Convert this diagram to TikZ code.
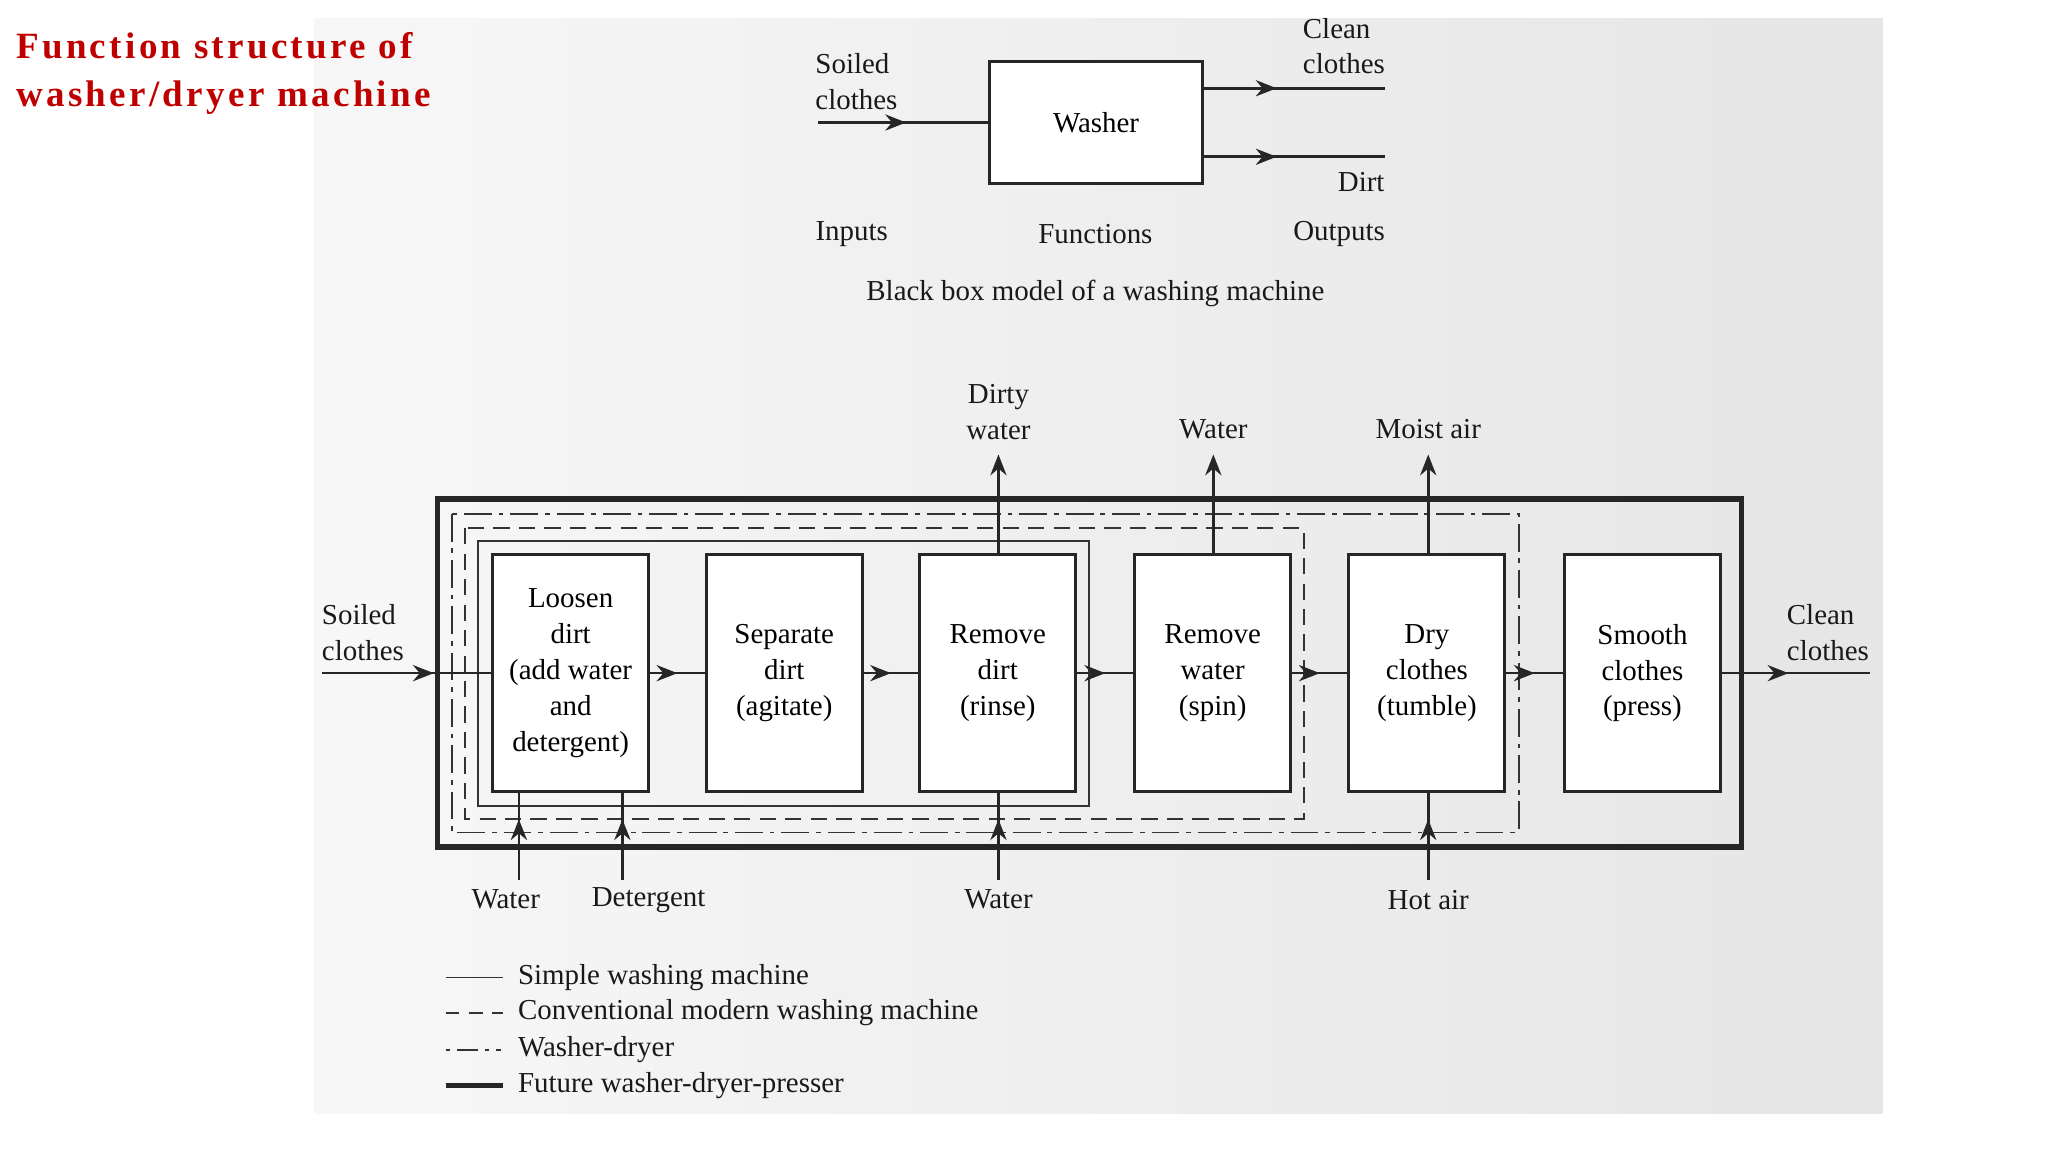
\documentclass[tikz,border=0pt]{standalone}
\usepackage{fontspec}
\setmainfont{Liberation Serif}
\newfontfamily\titlefont[LetterSpace=9]{Liberation Serif}
\usetikzlibrary{arrows.meta,decorations.markings}
\tikzset{
 fb/.style={draw=black!85,line width=1.3pt,fill=white,minimum width=119*0.0199cm,minimum height=180*0.02cm,align=center,inner sep=0pt,font=\fontsize{12.5}{15.5}\selectfont},
 lbl/.style={font=\fontsize{12.5}{15.5}\selectfont,inner sep=0pt,text=black!90},
 flow/.style={line width=1.1pt,draw=black!85,postaction={decorate},decoration={markings,mark=at position #1 with {\arrow{Stealth[length=9pt,width=7pt]}}}},
 flow/.default=0.5,
 up/.style={line width=1.1pt,draw=black!85,-{Stealth[length=9pt,width=7pt]}},
}
\begin{document}
\begin{tikzpicture}[x=0.0199cm,y=-0.02cm]
\useasboundingbox (0,0) rectangle (1563,875);
\shade[left color=white!97!black,right color=black!10] (240,14) rectangle (1437,845);
\node[anchor=north west,inner sep=0pt,align=left,text=red!75!black,font=\fontsize{16}{21}\titlefont\bfseries] (title) at (12,24) {Function structure of\\washer/dryer machine};
% black box
\node[draw=black!85,line width=1.3pt,fill=white,minimum width=163*0.0199cm,minimum height=92*0.02cm,font=\fontsize{12.5}{15}\selectfont] (washer) at (836.5,93) {Washer};
\coordinate (in0) at (624,93);
\coordinate (o1) at (1057,67);
\coordinate (o2) at (1057,119);
\draw[flow=0.52] (in0) -- (washer.west);
\draw[flow=0.4] (washer.east|-o1) -- (o1);
\draw[flow=0.4] (washer.east|-o2) -- (o2);
\node[lbl,anchor=west,align=left] (sc) at (622,62) {Soiled\\clothes};
\node[lbl,anchor=west,align=left] (cc) at (994,35) {Clean\\clothes};
\node[lbl,anchor=east] (dirt) at (1057,138) {Dirt};
\node[lbl] (inp) at (650,178) {Inputs};
\node[lbl] (fun) at (836,178) {Functions};
\node[lbl] (outp) at (1022,178) {Outputs};
\node[lbl] (cap) at (836,223) {Black box model of a washing machine};
% nested boundaries
\draw[line width=2.4pt,draw=black!85] (334,379) rectangle (1329,643);
\draw[line width=0.8pt,draw=black!80,dash pattern=on 12pt off 3pt on 2pt off 3pt] (345,390) rectangle (1159,632);
\draw[line width=0.8pt,draw=black!80,dash pattern=on 7pt off 4pt] (355,401) rectangle (995,622);
\draw[line width=0.8pt,draw=black!80] (365,411) rectangle (831,612);
% function boxes
\node[fb] (b1) at (435.5,511) {Loosen\\dirt\\(add water\\and\\detergent)};
\node[fb] (b2) at (598.5,511) {Separate\\dirt\\(agitate)};
\node[fb] (b3) at (761.5,511) {Remove\\dirt\\(rinse)};
\node[fb] (b4) at (925.5,511) {Remove\\water\\(spin)};
\node[fb] (b5) at (1089,511) {Dry\\clothes\\(tumble)};
\node[fb] (b6) at (1253.5,511) {Smooth\\clothes\\(press)};
\coordinate (sin) at (246,511);
\coordinate (cout) at (1427,511);
\draw[flow=0.66] (sin) -- (b1.west);
\draw[flow=0.45] (b6.east) -- (cout);
\draw[flow] (b1) -- (b2);
\draw[flow] (b2) -- (b3);
\draw[flow] (b3) -- (b4);
\draw[flow] (b4) -- (b5);
\draw[flow] (b5) -- (b6);
% outputs upward
\coordinate (u3) at (762,345);
\coordinate (u4) at (926,345);
\coordinate (u5) at (1090,345);
\draw[up] (b3.north-|u3) -- (u3);
\draw[up] (b4.north-|u4) -- (u4);
\draw[up] (b5.north-|u5) -- (u5);
\node[lbl,align=center] (dw) at (762,313) {Dirty\\water};
\node[lbl] (wt) at (926,326) {Water};
\node[lbl] (ma) at (1090,326) {Moist air};
% inputs from below
\coordinate (d1) at (396,668);
\coordinate (d2) at (475,668);
\coordinate (d3) at (762,668);
\coordinate (d5) at (1090,668);
\draw[flow=0.7] (d1) -- (b1.south-|d1);
\draw[flow=0.7] (d2) -- (b1.south-|d2);
\draw[flow=0.7] (d3) -- (b3.south-|d3);
\draw[flow=0.7] (d5) -- (b5.south-|d5);
\node[lbl] (lw) at (386,683) {Water};
\node[lbl] (ld) at (495,683) {Detergent};
\node[lbl] (lw2) at (762,683) {Water};
\node[lbl] (lh) at (1090,683) {Hot air};
\node[lbl,align=left] (lsc) at (277,480) {Soiled\\clothes};
\node[lbl,align=left] (lcc) at (1395,480) {Clean\\clothes};
% legend
\coordinate (ga) at (340,742); \coordinate (gb) at (384,742);
\coordinate (ha) at (340,769); \coordinate (hb) at (384,769);
\coordinate (ia) at (340,797); \coordinate (ib) at (384,797);
\coordinate (ja) at (340,824); \coordinate (jb) at (384,824);
\draw[line width=0.8pt,draw=black!80] (ga) -- (gb);
\draw[line width=0.8pt,draw=black!80,dash pattern=on 6pt off 4pt] (ha) -- (hb);
\draw[line width=0.8pt,draw=black!80,dash pattern=on 2pt off 3pt on 9pt off 3pt on 2pt off 3pt on 2pt off 3pt] (ia) -- (ib);
\draw[line width=2.4pt,draw=black!85] (ja) -- (jb);
\node[lbl,anchor=west] (t1) at (395,742) {Simple washing machine};
\node[lbl,anchor=west] (t2) at (395,769) {Conventional modern washing machine};
\node[lbl,anchor=west] (t3) at (395,797) {Washer-dryer};
\node[lbl,anchor=west] (t4) at (395,824) {Future washer-dryer-presser};
\end{tikzpicture}
\end{document}
